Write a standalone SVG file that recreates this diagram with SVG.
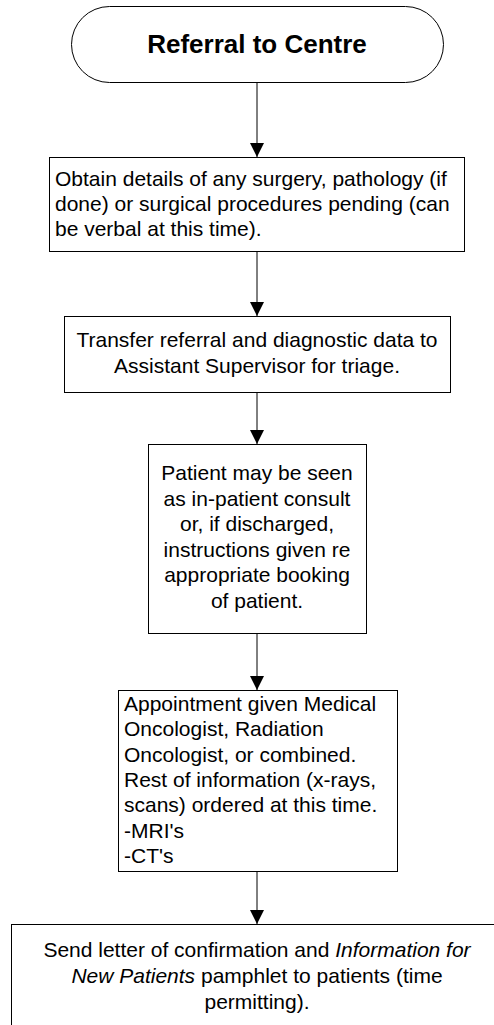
<svg xmlns="http://www.w3.org/2000/svg" width="494" height="1025" viewBox="0 0 494 1025">
<style>
.shape{fill:#fff;stroke:#000;stroke-width:1}
.t{font-family:"Liberation Sans",Arial,sans-serif;font-size:21px;fill:#000}
.c{text-anchor:middle}
.title{font-family:"Liberation Sans",Arial,sans-serif;font-size:26px;font-weight:bold;fill:#000;text-anchor:middle}
.conn{stroke:#000;stroke-width:1;fill:none}
</style>
<defs>
<marker id="arr" markerUnits="userSpaceOnUse" markerWidth="14" markerHeight="14" refX="14" refY="7" orient="auto">
<path d="M0,0 L14,7 L0,14 Z" fill="#000"/>
</marker>
</defs>
<rect width="494" height="1025" fill="#fff"/>
<g id="n1">
<rect class="shape" x="71.5" y="6.5" width="372" height="76" rx="38" ry="38"/>
<text class="title" x="257" y="53">Referral to Centre</text>
</g>
<g id="n2">
<rect class="shape" x="49.5" y="157.5" width="415" height="94"/>
<text class="t" x="55" y="186">Obtain details of any surgery, pathology (if</text>
<text class="t" x="55" y="211">done) or surgical procedures pending (can</text>
<text class="t" x="55" y="236">be verbal at this time).</text>
</g>
<g id="n3">
<rect class="shape" x="64.5" y="316.5" width="386" height="76"/>
<text class="t c" x="257" y="347">Transfer referral and diagnostic data to</text>
<text class="t c" x="257" y="373">Assistant Supervisor for triage.</text>
</g>
<g id="n4">
<rect class="shape" x="148.5" y="444.5" width="218" height="189"/>
<text class="t c" x="257" y="480">Patient may be seen</text>
<text class="t c" x="257" y="505.5">as in-patient consult</text>
<text class="t c" x="257" y="531">or, if discharged,</text>
<text class="t c" x="257" y="556.5">instructions given re</text>
<text class="t c" x="257" y="582">appropriate booking</text>
<text class="t c" x="257" y="607.5">of patient.</text>
</g>
<g id="n5">
<rect class="shape" x="118.5" y="690.5" width="279" height="181"/>
<text class="t" x="124" y="711">Appointment given Medical</text>
<text class="t" x="124" y="736">Oncologist, Radiation</text>
<text class="t" x="124" y="761.5">Oncologist, or combined.</text>
<text class="t" x="124" y="787">Rest of information (x-rays,</text>
<text class="t" x="124" y="812">scans) ordered at this time.</text>
<text class="t" x="124" y="837.5">-MRI's</text>
<text class="t" x="124" y="863">-CT's</text>
</g>
<g id="n6">
<rect class="shape" x="11.5" y="924.5" width="500" height="130"/>
<text class="t c" x="257" y="957">Send letter of confirmation and <tspan font-style="italic">Information for</tspan></text>
<text class="t c" x="257" y="983"><tspan font-style="italic">New Patients</tspan> pamphlet to patients (time</text>
<text class="t c" x="257" y="1008.5">permitting).</text>
</g>
<g id="connectors">
<line class="conn" x1="257" y1="83" x2="257" y2="157" marker-end="url(#arr)"/>
<line class="conn" x1="257" y1="252" x2="257" y2="316" marker-end="url(#arr)"/>
<line class="conn" x1="257" y1="393" x2="257" y2="444" marker-end="url(#arr)"/>
<line class="conn" x1="257" y1="634" x2="257" y2="690" marker-end="url(#arr)"/>
<line class="conn" x1="257" y1="872" x2="257" y2="924" marker-end="url(#arr)"/>
</g>
</svg>
